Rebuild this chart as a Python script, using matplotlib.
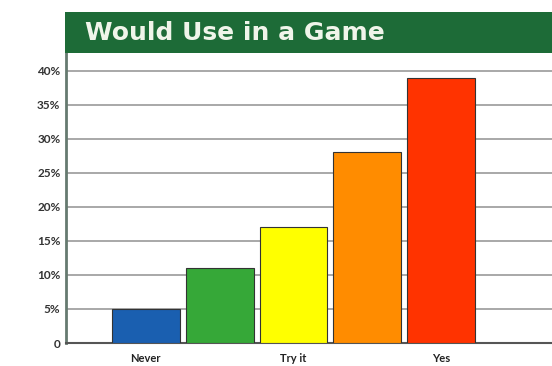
import matplotlib.pyplot as plt
from matplotlib.patches import Rectangle

# chart data
answers = ["Never", "", "Try it", "", "Yes"]
shares = [5, 11, 17, 28, 39]
bar_colors = ["#1a5fb0", "#36a838", "#ffff00", "#ff8c00", "#ff3300"]
y_ticks = [0, 5, 10, 15, 20, 25, 30, 35, 40]
y_labels = ["0", "5%", "10%", "15%", "20%", "25%", "30%", "35%", "40%"]

plt.rcParams['font.family'] = ['Lato', 'DejaVu Sans']

fig = plt.figure(figsize=(5.52, 3.66), dpi=100)
ax = fig.add_axes([0.1196, 0.0628, 0.8804, 0.792])

x = list(range(len(shares)))
ax.bar(x, shares, width=0.92, color=bar_colors, edgecolor="#333333", linewidth=0.8, zorder=3)

ax.set_xlim(-1.08, 5.5)
ax.set_ylim(0, 42.6)
ax.set_yticks(y_ticks)
ax.set_yticklabels(y_labels, fontsize=8.5, color="#333333", fontweight="bold")
ax.set_xticks(x)
ax.set_xticklabels(answers, fontsize=8, color="#222222", fontweight="bold")
ax.tick_params(axis="x", length=0, pad=7)
ax.tick_params(axis="y", length=0, pad=4)

ax.grid(axis="y", color="#999999", linewidth=1.2, zorder=0)
for side in ["top", "right"]:
    ax.spines[side].set_visible(False)
ax.spines["left"].set_color("#667a70")
ax.spines["left"].set_linewidth(2)
ax.spines["bottom"].set_color("#555555")
ax.spines["bottom"].set_linewidth(1.5)

# green title banner
fig.patches.append(Rectangle((0.118, 0.855), 0.882, 0.112, transform=fig.transFigure,
                             facecolor="#1d6b37", edgecolor="none", zorder=5))
fig.text(0.154, 0.911, "Would Use in a Game", color="#f0f5ea", fontsize=18,
         fontweight="bold", family="DejaVu Sans", va="center", ha="left", zorder=6)

plt.savefig("out.png", dpi=100)
